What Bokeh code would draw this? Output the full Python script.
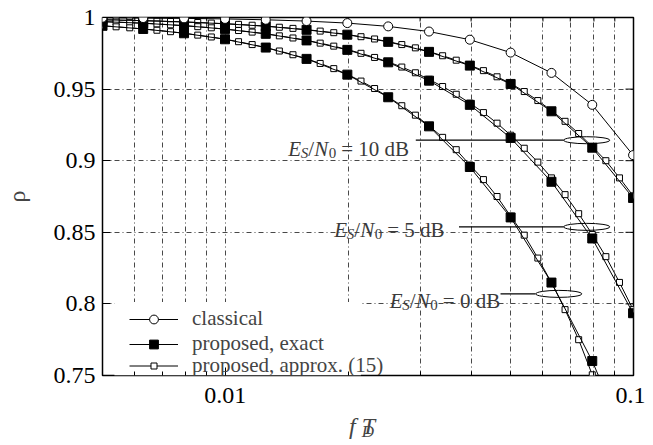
from bokeh.plotting import figure
from bokeh.models import (FixedTicker, CustomJSTickFormatter, Legend, LogAxis,
                          LegendItem, Label, BoxAnnotation, Range1d)
from bokeh.embed import file_html
from bokeh.resources import INLINE

# ---------------- data ----------------
fdT_markers = [0.005, 0.00629, 0.00792, 0.00998, 0.01256, 0.01581, 0.0199, 0.02506,
               0.03155, 0.03972, 0.05, 0.06295, 0.07924, 0.09976]
rho_classical = [0.9998, 0.9996, 0.9994, 0.9990, 0.9984, 0.9975, 0.9961, 0.9938,
                 0.9902, 0.9845, 0.9755, 0.9613, 0.9390, 0.9039]
rho_exact_10dB = [0.9984, 0.9978, 0.9969, 0.9956, 0.9939, 0.9914, 0.9880, 0.9830,
                  0.9760, 0.9664, 0.9536, 0.9345, 0.9091, 0.8740]
rho_exact_5dB = [0.9971, 0.9960, 0.9943, 0.9919, 0.9886, 0.9840, 0.9774, 0.9687,
                 0.9559, 0.9390, 0.9159, 0.8853, 0.8457, 0.7935]
rho_exact_0dB = [0.9942, 0.9920, 0.9890, 0.9848, 0.9790, 0.9711, 0.9601, 0.9443,
                 0.9240, 0.8956, 0.8604, 0.8149, 0.7601, 0.6930]

fdT_approx = [0.005, 0.005399, 0.00583, 0.006295, 0.006797, 0.007339, 0.007924, 0.008557,
              0.009239, 0.009976, 0.010772, 0.011632, 0.012559, 0.013561, 0.014643,
              0.015811, 0.017073, 0.018434, 0.019905, 0.021493, 0.023208, 0.025059,
              0.027058, 0.029217, 0.031548, 0.034064, 0.036782, 0.039716, 0.042885,
              0.046306, 0.05, 0.053989, 0.058296, 0.062946, 0.067968, 0.07339, 0.079245,
              0.085566, 0.092392, 0.099763]
rho_approx_10dB = [0.9985, 0.9982, 0.9980, 0.9978, 0.9975, 0.9972, 0.9969, 0.9965, 0.9961, 0.9957,
                   0.9952, 0.9946, 0.9940, 0.9932, 0.9924, 0.9915, 0.9905, 0.9894, 0.9881, 0.9866,
                   0.9850, 0.9831, 0.9811, 0.9788, 0.9762, 0.9733, 0.9702, 0.9667, 0.9629, 0.9586,
                   0.9540, 0.9483, 0.9420, 0.9350, 0.9275, 0.9190, 0.9098, 0.9000, 0.8880, 0.8755]
rho_approx_5dB = [0.9971, 0.9968, 0.9964, 0.9960, 0.9955, 0.9949, 0.9943, 0.9936, 0.9928, 0.9919,
                  0.9909, 0.9898, 0.9886, 0.9872, 0.9857, 0.9841, 0.9821, 0.9800, 0.9776, 0.9750,
                  0.9721, 0.9690, 0.9654, 0.9614, 0.9568, 0.9518, 0.9464, 0.9402, 0.9336, 0.9262,
                  0.9178, 0.9087, 0.8990, 0.8880, 0.8763, 0.8630, 0.8485, 0.8330, 0.8150, 0.7960]
rho_approx_0dB = [0.9942, 0.9935, 0.9928, 0.9920, 0.9911, 0.9901, 0.9890, 0.9877, 0.9864, 0.9848,
                  0.9831, 0.9811, 0.9790, 0.9766, 0.9740, 0.9712, 0.9679, 0.9643, 0.9603, 0.9556,
                  0.9504, 0.9445, 0.9384, 0.9318, 0.9243, 0.9163, 0.9077, 0.8970, 0.8868, 0.8750,
                  0.8612, 0.8480, 0.8320, 0.8149, 0.7960, 0.7750, 0.7505, 0.7250, 0.6980, 0.6700]

x_major_ticks = [0.01, 0.1]
x_minor_ticks = [0.006, 0.007, 0.008, 0.009, 0.02, 0.03, 0.04, 0.05, 0.06, 0.07, 0.08, 0.09]
y_ticks = [0.75, 0.8, 0.85, 0.9, 0.95, 1.0]

legend_labels = ["classical", "proposed, exact", "proposed, approx. (15)"]
snr_labels = ["10", "5", "0"]

# annotation anchors (ellipse centre, line start/end, text position in frame px)
ann_ellipse_x = [0.0768, 0.0768, 0.0656]
ann_ellipse_y = [0.9143, 0.8538, 0.8070]
ann_line_x0 = [0.02928, 0.03736, 0.04723]
ann_line_x1 = [0.06745, 0.06745, 0.05753]
ann_text_sx = [185.7, 231.7, 287.3]
ann_text_sy = [226.2, 146.0, 74.5]

FONT = "Liberation Serif"

p = figure(width=645, height=445, x_axis_type="log",
           x_range=Range1d(0.005, 0.1), y_range=Range1d(0.75, 1.0),
           output_backend="svg", toolbar_location=None,
           min_border_left=101, min_border_right=12, min_border_top=17, min_border_bottom=70)
p.background_fill_color = "white"
p.border_fill_color = "white"
p.outline_line_color = "black"
p.outline_line_width = 1.5
p.outline_line_alpha = 1.0

p.xaxis.ticker = FixedTicker(ticks=x_major_ticks, minor_ticks=x_minor_ticks)
p.yaxis.ticker = FixedTicker(ticks=y_ticks)
p.xaxis.formatter = CustomJSTickFormatter(code="return tick.toString()")
p.yaxis.formatter = CustomJSTickFormatter(code="return String(Math.round(tick*100)/100)")

for ax in (p.xaxis[0], p.yaxis[0]):
    ax.axis_line_color = None
    ax.major_tick_in = 8
    ax.major_tick_out = 0
    ax.minor_tick_in = 4
    ax.minor_tick_out = 0
    ax.major_tick_line_color = "black"
    ax.minor_tick_line_color = "black"
    ax.major_label_text_font = FONT
    ax.major_label_text_font_size = "24px"
    ax.major_label_text_color = "black"
p.xaxis.major_label_standoff = 12
p.yaxis.major_label_standoff = 7
p.yaxis.minor_tick_line_color = None
p.yaxis.axis_label = "ρ"
p.yaxis.axis_label_text_font = FONT
p.yaxis.axis_label_text_font_size = "24px"
p.yaxis.axis_label_text_font_style = "normal"
p.yaxis.axis_label_standoff = 21

# x-axis label  f_D T : "f   T" on the main axis, subscript "D" on a label-only axis below
p.xaxis.axis_label = "f   T"
p.xaxis.axis_label_text_font = FONT
p.xaxis.axis_label_text_font_size = "24px"
p.xaxis.axis_label_text_font_style = "italic"
p.xaxis.axis_label_standoff = 7
sub_axis = LogAxis(ticker=FixedTicker(ticks=[]), axis_label="D", axis_label_text_font=FONT,
                   axis_label_text_font_size="17px", axis_label_text_font_style="italic",
                   axis_label_standoff=-20, axis_line_color=None, major_tick_line_color=None,
                   minor_tick_line_color=None, major_label_standoff=0)
p.add_layout(sub_axis, "below")

for g in (p.xgrid[0], p.ygrid[0]):
    g.grid_line_color = "black"
    g.grid_line_alpha = 0.8
    g.grid_line_width = 0.9
    g.grid_line_dash = "5 3 1 3"
p.xgrid.minor_grid_line_color = "black"
p.xgrid.minor_grid_line_alpha = 0.8
p.xgrid.minor_grid_line_width = 0.9
p.xgrid.minor_grid_line_dash = "5 3 1 3"

# mirrored inward ticks on top and right edges (half of each dash is clipped by the frame)
p.scatter(x_major_ticks, [1.0] * len(x_major_ticks), marker="dash", angle=1.5708, size=16,
          line_color="black", line_width=1)
p.scatter(x_minor_ticks, [1.0] * len(x_minor_ticks), marker="dash", angle=1.5708, size=8,
          line_color="black", line_width=1)
p.scatter([0.1] * len(y_ticks), y_ticks, marker="dash", size=16, line_color="black", line_width=1)

# white key box
p.add_layout(BoxAnnotation(left=0.005348, right=0.02148, bottom=0.75, top=0.8014,
                           fill_color="white", fill_alpha=1.0, line_color=None,
                           level="underlay"))

# approx curves
approx_r = []
for ys in (rho_approx_10dB, rho_approx_5dB, rho_approx_0dB):
    l = p.line(fdT_approx, ys, line_color="black", line_width=1)
    s = p.scatter(fdT_approx, ys, marker="square", size=6, fill_color="white",
                  line_color="black", line_width=1)
    approx_r.append((l, s))

exact_r = []
for ys in (rho_exact_10dB, rho_exact_5dB, rho_exact_0dB):
    l = p.line(fdT_markers, ys, line_color="black", line_width=1)
    s = p.scatter(fdT_markers, ys, marker="square", size=9, fill_color="black",
                  line_color="black")
    exact_r.append((l, s))

cl_l = p.line(fdT_markers, rho_classical, line_color="black", line_width=1)
cl_s = p.scatter(fdT_markers, rho_classical, marker="circle", size=9, fill_color="white",
                 line_color="black", line_width=1)

# annotations
p.segment(x0=ann_line_x0, y0=ann_ellipse_y, x1=ann_line_x1, y1=ann_ellipse_y,
          line_color="black", line_width=1.2)
p.ellipse(x=ann_ellipse_x, y=ann_ellipse_y, width=46, height=7, width_units="screen",
          height_units="screen", fill_color=None, line_color="black", line_width=1)


def add_text(x, y, text, size, style, color="black"):
    p.add_layout(Label(x=x, y=y, x_units="screen", y_units="screen", text=text,
                       text_font=FONT, text_font_size=size, text_font_style=style,
                       text_color=color, text_baseline="alphabetic", text_align="left"))


TC = "#3a3a3a"
for sx, sy, snr in zip(ann_text_sx, ann_text_sy, snr_labels):
    add_text(sx, sy, "E", "21px", "italic", TC)
    add_text(sx + 12.5, sy - 4, "S", "15px", "italic", TC)
    add_text(sx + 20, sy, "/", "21px", "normal", TC)
    add_text(sx + 26, sy, "N", "21px", "italic", TC)
    add_text(sx + 40.5, sy - 4, "0", "15px", "normal", TC)
    add_text(sx + 53, sy, "= " + snr + " dB", "21px", "normal", TC)


# legends (three, so that marker sizes differ)
def make_legend(label, rends, loc, gh):
    return Legend(items=[LegendItem(label=label, renderers=list(rends))], location=loc,
                  padding=0, spacing=0, margin=0, border_line_color=None,
                  background_fill_alpha=0, glyph_width=49, glyph_height=gh, label_height=gh,
                  label_standoff=14, label_text_font=FONT, label_text_font_size="21px",
                  label_text_baseline="middle")

p.add_layout(make_legend(legend_labels[0], (cl_l, cl_s), (27, 44), 22))
p.add_layout(make_legend(legend_labels[1], exact_r[0], (27, 19), 22))
p.add_layout(make_legend(legend_labels[2], approx_r[0], (27, -3), 15))

open("out.html", "w").write(file_html(p, INLINE))
